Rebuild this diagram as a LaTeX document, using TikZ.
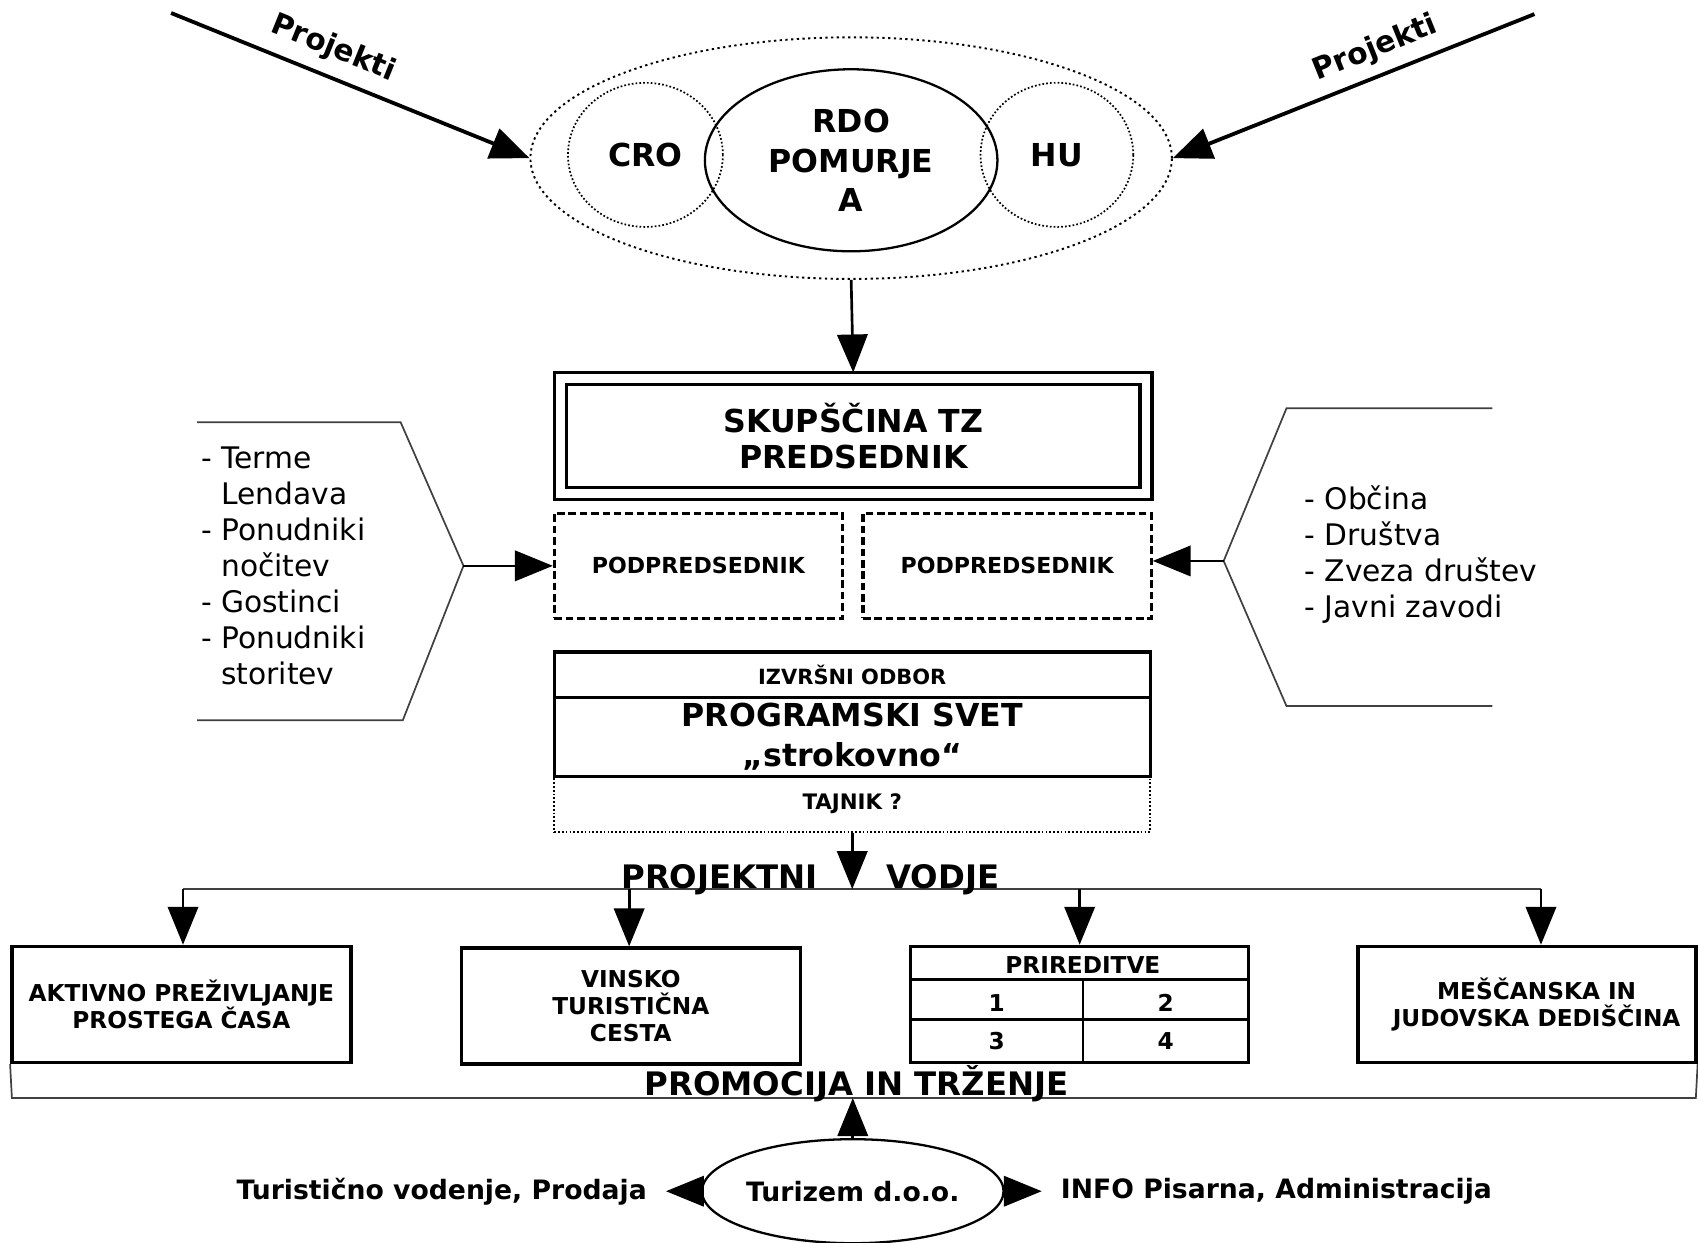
\documentclass[tikz,border=0pt]{standalone}
\usepackage{fontspec}
\setmainfont{DejaVu Sans}
\usetikzlibrary{arrows.meta,shapes.geometric}
\newcommand{\fbig}{\fontsize{8.3}{10.4}\selectfont\bfseries}
\newcommand{\fhead}{\fontsize{8.5}{10}\selectfont\bfseries}
\newcommand{\fmid}{\fontsize{7}{8.4}\selectfont\bfseries}
\newcommand{\fproj}{\fontsize{7.8}{9}\selectfont\bfseries}
\newcommand{\fsmall}{\fontsize{5.8}{7}\selectfont\bfseries}
\newcommand{\fcell}{\fontsize{6.1}{7.2}\selectfont\bfseries}
\newcommand{\flist}{\fontsize{7.8}{9.45}\selectfont}

\begin{document}
\begin{tikzpicture}[x=0.01cm,y=-0.01cm,
  arr/.style={-{Triangle[length=0.35cm,width=0.28cm]},line width=0.7pt},
  arrthick/.style={-{Triangle[length=0.36cm,width=0.29cm]},line width=1pt},
  thinline/.style={line width=0.45pt,black!75},
  dotline/.style={line width=0.5pt,dash pattern=on 0.6pt off 0.9pt},
  finedot/.style={line width=0.45pt,dash pattern=on 0.45pt off 0.55pt},
  boxnode/.style={draw,line width=0.9pt,align=center,inner sep=0pt},
  dashbox/.style={draw,line width=0.8pt,dash pattern=on 0.07cm off 0.035cm,
    minimum width=2.66cm,minimum height=0.97cm,inner sep=0pt,font=\fsmall}]
\useasboundingbox (0,0) rectangle (1568,1147);

% RDO group
\node[ellipse,draw,dotline,minimum width=5.92cm,minimum height=2.23cm,inner sep=0pt] (grp) at (786,146) {}; % grp
\node[ellipse,draw,finedot,minimum width=1.43cm,minimum height=1.33cm,inner sep=0pt,font=\fbig] (cro) at (596,143) {CRO}; % cro
\node[ellipse,draw,finedot,minimum width=1.41cm,minimum height=1.33cm,inner sep=0pt,font=\fbig] (hu) at (976,143) {HU}; % hu
\node[ellipse,draw,line width=0.6pt,minimum width=2.7cm,minimum height=1.68cm,inner sep=0pt,align=center,font=\fbig] (rdo) at (786,148) {RDO\\POMURJE\\A}; % rdo

% Projekti
\coordinate (pjL) at (158,12);
\coordinate (pjR) at (1417,13);
\draw[arrthick] (pjL) -- (grp.west); % pjL
\draw[arrthick] (pjR) -- (grp.east); % pjR
\node[rotate=-22,font=\fproj,inner sep=0pt] (pjLlab) at (308,45) {Projekti}; % pjL
\node[rotate=22,font=\fproj,inner sep=0pt] (pjRlab) at (1270,45) {Projekti}; % pjR

% skupscina
\node[boxnode,double,double distance=0.08cm,minimum width=5.405cm,minimum height=1.06cm,
  font=\fontsize{8.3}{9.5}\selectfont\bfseries] (skup) at (788,402.5) {SKUPŠČINA TZ\\PREDSEDNIK}; % skup
\draw[arr,shorten >=0.04cm] (grp.south) -- (skup.north); % grp-skup

% podpredsednik
\node[dashbox] (podL) at (645,522.5) {PODPREDSEDNIK}; % podL
\node[dashbox] (podR) at (930,522.5) {PODPREDSEDNIK}; % podR

% izvrsni odbor, programski svet, tajnik
\node[draw,finedot,minimum width=5.5cm,minimum height=0.51cm,inner sep=0pt,
  font=\fontsize{5.6}{7}\selectfont\bfseries] (taj) at (787,742.5) {TAJNIK ?}; % taj
\node[boxnode,minimum width=5.5cm,minimum height=0.42cm,font=\fontsize{5.5}{7}\selectfont\bfseries] (izv) at (787,623) {IZVRŠNI ODBOR}; % izv
\node[boxnode,minimum width=5.5cm,minimum height=0.73cm,
  font=\fontsize{8.3}{10.5}\selectfont\bfseries] (prog) at (787,680.5) {PROGRAMSKI SVET\\„strokovno“}; % prog

% left bracket
\coordinate (tipL) at (428,522.5);
\draw[thinline] (182,390) -- (370,390) -- (tipL) -- (372,665) -- (182,665); % bracketL
\draw[arr] (tipL) -- (podL.west); % tipL-podL
\node[anchor=west,align=left,inner sep=0pt,font=\flist] (listL) at (185,522.5)
  {- Terme\\\phantom{- }Lendava\\- Ponudniki\\\phantom{- }nočitev\\- Gostinci\\- Ponudniki\\\phantom{- }storitev}; % listL

% right bracket
\coordinate (tipR) at (1130,518);
\draw[thinline] (1378,377) -- (1188,377) -- (tipR) -- (1188,652) -- (1378,652); % bracketR
\draw[arr] (tipR) -- (podR.east |- tipR); % tipR-podR
\node[anchor=west,align=left,inner sep=0pt,font=\flist] (listR) at (1204,512.5)
  {- Občina\\- Društva\\- Zveza društev\\- Javni zavodi}; % listR

% projektni vodje
\coordinate (busTop) at (787,821);
\coordinate (busA) at (169,821);
\coordinate (busB) at (581,821);
\coordinate (busC) at (997,821);
\coordinate (busD) at (1423,821);
\draw[thinline] (busA) -- (busD); % bus
\draw[arr] (taj.south) -- (busTop); % taj-bus
\node[anchor=base,font=\fhead] (pvL) at (664.5,820) {PROJEKTNI}; % pvL
\node[anchor=base,font=\fhead] (pvR) at (870.5,820) {VODJE}; % pvR

% project boxes
\node[boxnode,minimum width=3.13cm,minimum height=1.07cm,font=\fcell] (akt) at (167.5,927.5) {AKTIVNO PREŽIVLJANJE\\PROSTEGA ČASA}; % akt
\node[boxnode,minimum width=3.13cm,minimum height=1.07cm,font=\fontsize{6.1}{7}\selectfont\bfseries] (vin) at (582.5,929) {VINSKO\\TURISTIČNA\\CESTA}; % vin
\node[boxnode,minimum width=3.12cm,minimum height=1.07cm] (pri) at (997,927.5) {}; % pri
\node[boxnode,minimum width=3.12cm,minimum height=1.07cm,font=\fcell] (mes) at (1410,927.5) {\hspace{0.18cm}MEŠČANSKA IN\\\hspace{0.18cm}JUDOVSKA DEDIŠČINA}; % mes
\draw[arr] (busA) -- (busA |- akt.north); % busA
\draw[arr] (busB) -- (busB |- vin.north); % busB
\draw[arr] (busC) -- (busC |- pri.north); % busC
\draw[arr] (busD) -- (busD |- mes.north); % busD

% prireditve table
\draw[line width=0.6pt] (pri.north west) ++(0,32) -- ++(312,0); % pri header
\draw[line width=0.6pt] (pri.north west) ++(0,69) -- ++(312,0); % pri row
\draw[line width=0.6pt] (pri.north) ++(3,32) -- (1000,981); % pri col
\node[font=\fcell] (priH) at (1000,891) {PRIREDITVE}; % priH
\node[font=\fcell] (pri1) at (920.5,926) {1}; % pri1
\node[font=\fcell] (pri2) at (1076.5,926) {2}; % pri2
\node[font=\fcell] (pri3) at (920.5,961) {3}; % pri3
\node[font=\fcell] (pri4) at (1076.5,961) {4}; % pri4

% promocija in trzenje
\coordinate (promoL) at (11,1014);
\coordinate (promoR) at (1566,1014);
\coordinate (promoC) at (787.5,1014);
\draw[thinline] (akt.south west) -- (promoL) -- (promoR) -- (mes.south east); % promo
\node[anchor=base,font=\fhead] (promo) at (791,1012) {PROMOCIJA IN TRŽENJE}; % promo

% turizem
\node[ellipse,draw,line width=0.6pt,minimum width=2.69cm,minimum height=0.96cm,inner sep=0pt,font=\fmid] (tur) at (787.5,1100) {Turizem d.o.o.}; % tur
\draw[arr] (tur.north) -- (promoC); % tur-promo
\node[anchor=east,inner xsep=0.17cm,inner ysep=0pt,font=\fmid] (tvod) at (615,1100) {Turistično vodenje, Prodaja}; % tvod
\node[anchor=west,inner xsep=0.17cm,inner ysep=0pt,font=\fmid] (info) at (962,1100) {INFO Pisarna, Administracija}; % info
\draw[arr] (tur.west) -- (tvod.east); % tur-tvod
\draw[arr] (tur.east) -- (info.west); % tur-info

\end{tikzpicture}
\end{document}
